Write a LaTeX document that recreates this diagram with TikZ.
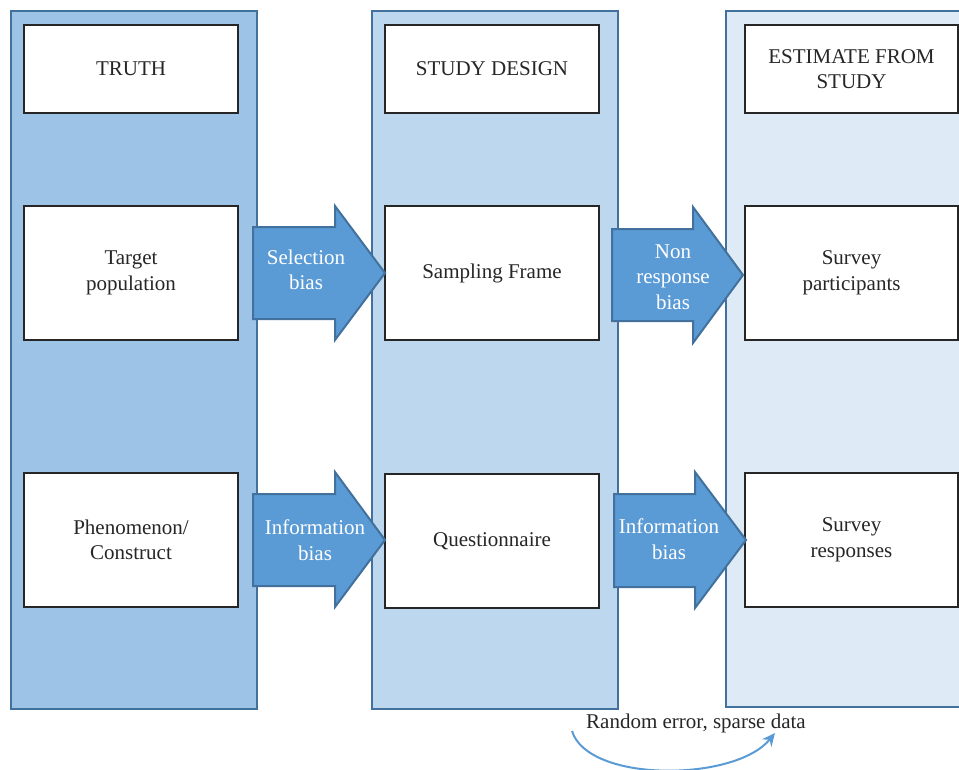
\documentclass[tikz,border=0pt]{standalone}
\usepackage{fontspec}
\setmainfont{Liberation Serif}
\usetikzlibrary{arrows.meta}
\definecolor{colA}{HTML}{9DC3E6}
\definecolor{colB}{HTML}{BDD7EE}
\definecolor{colC}{HTML}{DEEBF7}
\definecolor{edgeblue}{HTML}{41719C}
\definecolor{arrowfill}{HTML}{5B9BD5}
\definecolor{txt}{HTML}{262626}
\begin{document}
\begin{tikzpicture}[x=1pt,y=-1pt,
  column/.style={draw=edgeblue,line width=2pt,inner sep=0pt},
  box/.style={draw=black!85,fill=white,line width=1.5pt,minimum width=214pt,inner sep=2pt,align=center,font=\fontsize{21}{25.5}\selectfont,text=txt},
  blockarrow/.style={draw=edgeblue,line width=2pt,fill=arrowfill,line join=miter},
  arrowtext/.style={align=center,font=\fontsize{21}{25.5}\selectfont,text=white,inner sep=0pt}
]
\useasboundingbox (0,0) rectangle (959,769);
% columns
\node[column,fill=colA,minimum width=246pt,minimum height=698pt] (c1) at (134,360) {};
\node[column,fill=colB,minimum width=246pt,minimum height=698pt] (c2) at (495,360) {};
\node[column,fill=colC,minimum width=250pt,minimum height=696pt] (c3) at (851,359) {};
% boxes
\node[box,minimum height=88pt] (truth) at (131,69) {TRUTH};
\node[box,minimum height=134pt] (target) at (131,273) {Target\\population};
\node[box,minimum height=134pt] (phen) at (131,540) {Phenomenon/\\Construct};
\node[box,minimum height=88pt] (design) at (492,69) {STUDY DESIGN};
\node[box,minimum height=134pt] (frame) at (492,273) {Sampling Frame};
\node[box,minimum height=134pt] (quest) at (492,541) {Questionnaire};
\node[box,minimum width=213pt,minimum height=88pt] (estimate) at (851.5,69) {ESTIMATE FROM\\STUDY};
\node[box,minimum width=213pt,minimum height=134pt] (part) at (851.5,273) {Survey\\participants};
\node[box,minimum width=213pt,minimum height=134pt] (resp) at (851.5,540) {Survey\\responses};
% block arrows
\draw[blockarrow] (253,227) -- (335,227) -- (335,206) -- (385,273) -- (335,340) -- (335,319) -- (253,319) -- cycle;
\node[arrowtext] (selbias) at (306,270) {Selection\\bias};
\draw[blockarrow] (612,229) -- (693,229) -- (693,207) -- (743,275) -- (693,343) -- (693,321) -- (612,321) -- cycle;
\node[arrowtext] (nonresp) at (673,277) {Non\\response\\bias};
\draw[blockarrow] (253,494) -- (335,494) -- (335,472) -- (385,540) -- (335,607) -- (335,586) -- (253,586) -- cycle;
\node[arrowtext] (info1) at (315,540) {Information\\bias};
\draw[blockarrow] (614,494) -- (695,494) -- (695,472) -- (746,540) -- (695,608) -- (695,587) -- (614,587) -- cycle;
\node[arrowtext] (info2) at (669,539) {Information\\bias};
% random error
\node[font=\fontsize{21}{25.5}\selectfont,text=txt,inner sep=0pt] (rand) at (696,723) {Random error, sparse data};
\coordinate (rs) at (572,731);
\coordinate (re) at (775,733);
\draw[arrowfill,line width=2pt,-{Stealth[length=13pt,width=12pt]}] (rs) .. controls (588,783) and (735,782) .. (re);
\end{tikzpicture}
\end{document}
